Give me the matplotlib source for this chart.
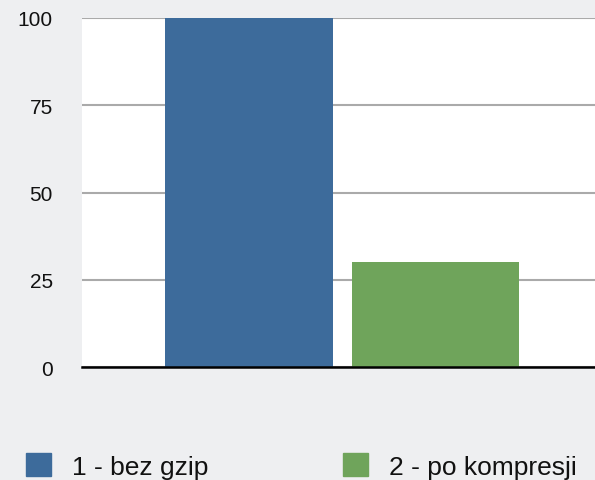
import matplotlib.pyplot as plt
from matplotlib.patches import Patch

plt.rcParams['font.family'] = ['Liberation Sans', 'DejaVu Sans']

# data
categories = ['1 - bez gzip', '2 - po kompresji']
values = [100, 30]
colors = ['#3d6b9b', '#6fa45b']
yticks = [0, 25, 50, 75, 100]

fig = plt.figure(figsize=(5.95, 4.81), dpi=100)
fig.patch.set_facecolor('#eeeff1')
ax = fig.add_axes([82 / 595, 1 - 368 / 481, 1 - 82 / 595, 349 / 481])
ax.set_facecolor('white')

x = list(range(len(values)))
ax.bar(x, values, width=0.9, color=colors, zorder=2)

ax.set_xlim(-0.895, 1.855)
ax.set_ylim(0, 100)
ax.set_yticks(yticks)
ax.set_yticklabels([str(t) for t in yticks], fontsize=15, color='#111111')
ax.set_xticks([])
ax.tick_params(axis='y', length=0, pad=21)
ax.grid(axis='y', color='#aaaaaa', linewidth=1.5, zorder=1)
ax.set_axisbelow(True)
for s in ['top', 'right', 'left']:
    ax.spines[s].set_visible(False)
ax.spines['bottom'].set_color('black')
ax.spines['bottom'].set_linewidth(1.8)

handles = [Patch(color=c) for c in colors]
fig.legend(handles, categories, ncol=2, loc='center left',
           bbox_to_anchor=(26 / 595, 14 / 481), frameon=False, fontsize=19,
           borderpad=0, borderaxespad=0,
           handlelength=0.95, handleheight=0.95, handletextpad=0.8,
           columnspacing=5.1, labelcolor='#111111')

fig.savefig('out.png', dpi=100, facecolor=fig.get_facecolor())
